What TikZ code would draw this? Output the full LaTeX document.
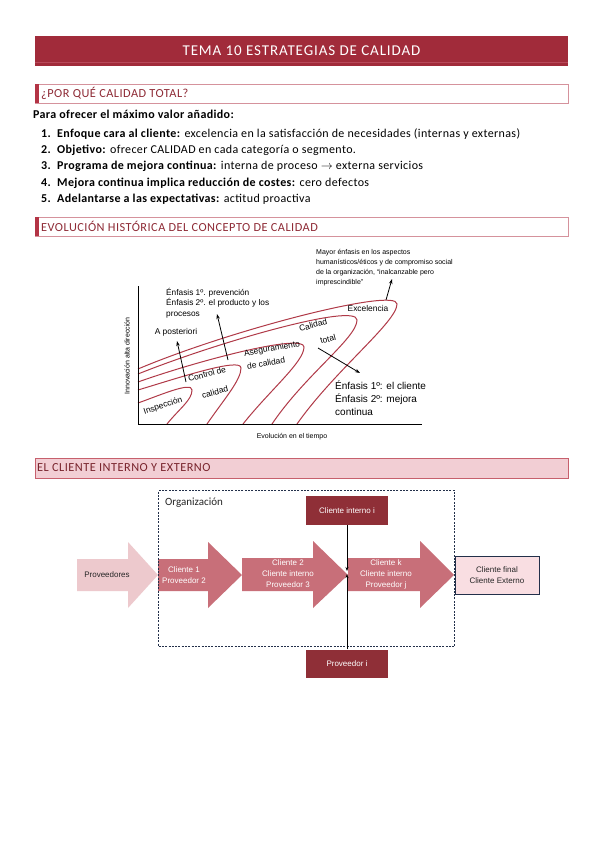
\documentclass[tikz,border=0pt]{standalone}
\usepackage{fontspec}
\setmainfont{Carlito}
\newfontfamily\dgfont{Liberation Sans}
\newfontfamily\spacedfont{Carlito}[LetterSpace=3]
\newfontfamily\titlefont{Carlito}[LetterSpace=6]
\newfontfamily\headfont{Carlito}[LetterSpace=4]
\usetikzlibrary{arrows.meta}
\definecolor{titlered}{HTML}{A12B3A}
\definecolor{titleline}{HTML}{B8495A}
\definecolor{headtxt}{HTML}{8E2A35}
\definecolor{headborder}{HTML}{D5929C}
\definecolor{headbar}{HTML}{B33445}
\definecolor{pinkfill}{HTML}{F2CED4}
\definecolor{pinkborder}{HTML}{C7606D}
\definecolor{loopred}{HTML}{B03A48}
\definecolor{provfill}{HTML}{EDC9CD}
\definecolor{clifill}{HTML}{C86F79}
\definecolor{darkbox}{HTML}{8F2F37}
\definecolor{finalfill}{HTML}{F9DEE2}
\definecolor{navy}{HTML}{23304A}
\begin{document}
\begin{tikzpicture}[x=1pt,y=1pt,
  headbox/.style={draw=headborder, line width=0.8pt, minimum width=533pt, minimum height=19pt, anchor=north west, inner sep=0pt},
  headtext/.style={anchor=west, text=headtxt, font=\headfont\fontsize{12.3}{14}\selectfont, inner sep=0pt},
  listnum/.style={anchor=base west, inner sep=0pt, font=\spacedfont\fontsize{12}{14}\selectfont\bfseries},
  listtext/.style={anchor=base west, inner sep=0pt, font=\spacedfont\fontsize{12}{14}\selectfont},
  loopline/.style={draw=loopred, line width=1pt},
  lbl/.style={font=\dgfont\fontsize{8.4}{9}\selectfont, inner sep=0pt, align=center},
  smalllbl/.style={font=\dgfont\fontsize{7}{10}\selectfont, inner sep=0pt, align=left, anchor=north west},
  pointer/.style={-{Stealth[length=5pt,width=3.5pt]}, line width=0.8pt},
  flowtext/.style={font=\dgfont\fontsize{8}{11}\selectfont, inner sep=0pt, align=center},
  darkrect/.style={fill=darkbox, text=white, minimum width=82pt, font=\dgfont\fontsize{8}{10}\selectfont, inner sep=0pt}
]
\useasboundingbox[fill=white] (0,0) rectangle (599,-848);

% Title
\node[fill=titlered, minimum width=533pt, minimum height=30pt, inner sep=0pt, text=white,
      font=\titlefont\fontsize{15}{17}\selectfont] (title) at (301.5,-51) {TEMA 10 ESTRATEGIAS DE CALIDAD};
\draw[titleline, line width=0.8pt] (title.south west) ++(0,4) -- ++(533,0);

% Heading 1
\node[headbox] (h1) at (35,-84) {};
\fill[headbar] (h1.north west) rectangle ++(4,-19);
\node[headtext] (h1t) at (41,-93.5) {¿POR QUÉ CALIDAD TOTAL?};

\node[anchor=base west, inner sep=0pt, font=\spacedfont\fontsize{12}{14}\selectfont\bfseries] (intro) at (33,-119) {Para ofrecer el máximo valor añadido:};
\node[listnum] (n1) at (41,-137) {1.};
\node[listtext] (t1) at (57,-137) {\textbf{Enfoque cara al cliente:} excelencia en la satisfacción de necesidades (internas y externas)};
\node[listnum] (n2) at (41,-153.4) {2.};
\node[listtext] (t2) at (57,-153.4) {\textbf{Objetivo:} ofrecer CALIDAD en cada categoría o segmento.};
\node[listnum] (n3) at (41,-169.8) {3.};
\node[listtext] (t3) at (57,-169.8) {\textbf{Programa de mejora continua:} interna de proceso $\rightarrow$ externa servicios};
\node[listnum] (n4) at (41,-186.2) {4.};
\node[listtext] (t4) at (57,-186.2) {\textbf{Mejora continua implica reducción de costes:} cero defectos};
\node[listnum] (n5) at (41,-202.6) {5.};
\node[listtext] (t5) at (57,-202.6) {\textbf{Adelantarse a las expectativas:} actitud proactiva};

% Heading 2
\node[headbox] (h2) at (35,-217) {};
\fill[headbar] (h2.north west) rectangle ++(4,-19);
\node[headtext] (h2t) at (41,-226.5) {EVOLUCIÓN HISTÓRICA DEL CONCEPTO DE CALIDAD};

% Chart loops
\draw[loopline] (138,-403) .. controls (158,-396) and (192,-381) .. (192,-390) .. controls (192,-400) and (180,-408) .. (167,-424);
\draw[loopline] (138,-390) .. controls (178,-378) and (241,-357) .. (241,-368) .. controls (241,-380) and (225,-398) .. (207,-424);
\draw[loopline] (138,-382) .. controls (200,-360) and (304,-333) .. (304,-347) .. controls (304,-362) and (270,-390) .. (243,-424);
\draw[loopline] (138,-374) .. controls (215,-343) and (357,-302) .. (357,-320) .. controls (357,-338) and (305,-375) .. (272,-424);
\draw[loopline] (138,-369) .. controls (230,-330) and (397,-287) .. (397,-304) .. controls (397,-322) and (335,-370) .. (297,-424);

% Axes
\draw[line width=1pt] (138,-286) -- (138,-424) -- (422,-424);
\node[lbl, font=\dgfont\fontsize{7}{9}\selectfont] (xlab) at (292,-437) {Evolución en el tiempo};
\node[lbl, font=\dgfont\fontsize{7}{9}\selectfont, rotate=90] (ylab) at (127,-356) {Innovación alta dirección};

% Chart labels
\node[lbl, rotate=18] (insp) at (163,-406) {Inspección};
\node[lbl, rotate=15] (ctrl1) at (207,-374) {Control de};
\node[lbl, rotate=15] (ctrl2) at (215,-392) {calidad};
\node[lbl, rotate=10] (aseg1) at (272,-349) {Aseguramiento};
\node[lbl, rotate=10] (aseg2) at (266,-363) {de calidad};
\node[lbl, rotate=15] (ctot1) at (313,-325) {Calidad};
\node[lbl, rotate=15] (ctot2) at (328,-339) {total};
\node[lbl] (excel) at (368,-308) {Excelencia};
\node[lbl] (apost) at (176,-332) {A posteriori};
\node[smalllbl, font=\dgfont\fontsize{8.3}{10.3}\selectfont] (prev) at (166,-288) {Énfasis 1º. prevención\\Énfasis 2º. el producto y los\\procesos};
\node[smalllbl] (mayor) at (316,-249) {Mayor énfasis en los aspectos\\humanísticos/éticos y de compromiso social\\de la organización, “inalcanzable pero\\imprescindible”};
\node[smalllbl, font=\dgfont\fontsize{10}{13}\selectfont] (enf) at (335,-381) {Énfasis 1º: el cliente\\Énfasis 2º: mejora\\continua};

% Chart pointers
\coordinate (p1s) at (186,-382); \coordinate (p1e) at (177,-341);
\coordinate (p2s) at (228,-360); \coordinate (p2e) at (217,-314);
\coordinate (p3s) at (318,-348); \coordinate (p3e) at (360,-373);
\coordinate (p4s) at (386,-300); \coordinate (p4e) at (392,-279);
\draw[pointer] (p1s) -- (p1e);
\draw[pointer] (p2s) -- (p2e);
\draw[pointer] (p3s) -- (p3e);
\draw[pointer] (p4s) -- (p4e);

% Heading 3
\node[fill=pinkfill, draw=pinkborder, line width=0.8pt, minimum width=533pt, minimum height=20pt, anchor=north west, inner sep=0pt] (h3) at (35,-458) {};
\node[headtext, text=headtxt!85!black] (h3t) at (37,-468) {EL CLIENTE INTERNO Y EXTERNO};

% Flow arrows
\fill[provfill] (77,-559) -- (128,-559) -- (128,-542) -- (158,-575) -- (128,-608) -- (128,-591) -- (77,-591) -- cycle;
\node[flowtext, text=black!85] (prov) at (107,-575) {Proveedores};
\fill[clifill] (158,-559) -- (208,-559) -- (208,-542) -- (242,-575) -- (208,-608) -- (208,-591) -- (158,-591) -- cycle;
\node[flowtext, text=white] (c1) at (184,-575) {Cliente 1\\Proveedor 2};
\fill[clifill] (242,-558) -- (313,-558) -- (313,-541) -- (348,-575) -- (313,-608) -- (313,-591) -- (242,-591) -- cycle;
\node[flowtext, text=white] (c2) at (288,-574) {Cliente 2\\Cliente interno\\Proveedor 3};
\fill[clifill] (348,-558) -- (420,-558) -- (420,-541) -- (454,-575) -- (420,-608) -- (420,-591) -- (348,-591) -- cycle;
\node[flowtext, text=white] (ck) at (386,-574) {Cliente k\\Cliente interno\\Proveedor j};

\node[draw=navy, fill=finalfill, line width=0.8pt, minimum width=84pt, minimum height=38pt, inner sep=0pt, flowtext, text=black!85] (final) at (497,-575) {Cliente final\\Cliente Externo};

% Organization box
\node[draw=navy, line width=1.2pt, dash pattern=on 2pt off 1.3pt, minimum width=296pt, minimum height=156pt, anchor=north west, inner sep=0pt] (org) at (158,-490) {};
\node[anchor=base west, inner sep=0pt, font=\fontsize{11}{13}\selectfont, text=black!85] (orgt) at (165,-505) {Organización};

\node[darkrect, minimum height=29pt] (cii) at (347,-510.5) {Cliente interno i};
\node[darkrect, minimum height=28pt] (provi) at (347,-663.5) {Proveedor i};

\coordinate (meettop) at (347,-571);
\coordinate (meetbot) at (347,-574);
\draw[pointer, -{Stealth[length=4pt,width=3pt]}] (cii.south) -- (meettop);
\draw[pointer, -{Stealth[length=4pt,width=3pt]}] (provi.north) -- (meetbot);
\end{tikzpicture}
\end{document}
